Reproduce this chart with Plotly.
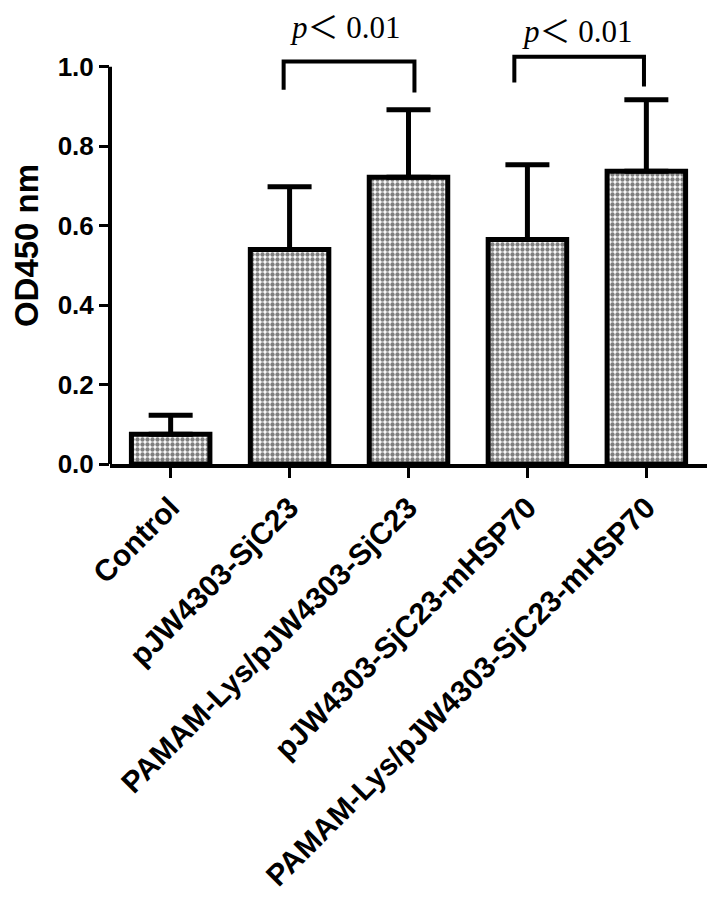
import plotly.graph_objects as go

# data
groups = ["Control", "pJW4303-SjC23", "PAMAM-Lys/pJW4303-SjC23",
          "pJW4303-SjC23-mHSP70", "PAMAM-Lys/pJW4303-SjC23-mHSP70"]
od450 = [0.075, 0.540, 0.722, 0.565, 0.737]
sd = [0.048, 0.158, 0.170, 0.188, 0.180]

# significance brackets: (left x, right x, top, left leg end, right leg end)
brackets = [(0.95, 2.05, 1.013, 0.942, 0.935),
            (2.89, 3.98, 1.025, 0.960, 0.950)]
p_labels = ["<i>p</i>＜ 0.01", "<i>p</i>＜ 0.01"]
p_pos = [(1.47, 1.052), (3.42, 1.042)]

y_ticks = [0.0, 0.2, 0.4, 0.6, 0.8, 1.0]

bold = dict(family="Liberation Sans, Arial", color="black", weight="bold")

fig = go.Figure()
fig.add_trace(go.Bar(
    x=groups, y=od450, width=0.66,
    marker=dict(color="white",
                line=dict(color="black", width=5),
                pattern=dict(shape=".", fgcolor="black", bgcolor="white",
                             size=5, solidity=0.6)),
    error_y=dict(type="data", array=sd, arrayminus=[0] * len(sd),
                 symmetric=False, color="black", thickness=5, width=22),
    showlegend=False,
))

# brackets
for x0, x1, top, l_end, r_end in brackets:
    fig.add_shape(type="path", xref="x", yref="y",
                  path=f"M {x0},{l_end} L {x0},{top} L {x1},{top} L {x1},{r_end}",
                  line=dict(color="black", width=4))

for txt, (px, py) in zip(p_labels, p_pos):
    fig.add_annotation(x=px, y=py, xref="x", yref="y", text=txt,
                       showarrow=False, yanchor="bottom", borderpad=0,
                       font=dict(family="Liberation Serif, Times New Roman, Noto Sans CJK SC",
                                 size=31, color="black"))

# left axis line only up to 1.0
fig.add_shape(type="line", xref="paper", yref="y", x0=0, x1=0,
              y0=0, y1=y_ticks[-1], line=dict(color="black", width=4))

# page body has an 8px margin, so the figure is 8px smaller than the window
fig.update_layout(
    width=710, height=890,
    margin=dict(l=102, r=11, t=19, b=434),
    plot_bgcolor="white", paper_bgcolor="white",
)
fig.update_xaxes(range=[-0.51, 4.51], showline=True, linecolor="black", linewidth=4,
                 ticks="outside", ticklen=10, tickwidth=3, tickcolor="black",
                 tickangle=-45, tickfont=dict(size=30, **bold), showgrid=False,
                 automargin=False)
fig.update_yaxes(range=[0, 1.1], tickvals=y_ticks, tickformat=".1f",
                 showline=False, ticks="outside", ticklen=10, tickwidth=3,
                 tickcolor="black", tickfont=dict(size=26, **bold),
                 showgrid=False, zeroline=False, automargin=False,
                 title=dict(text="OD450 nm", font=dict(size=33, **bold), standoff=12))

fig.write_html("out.html")
